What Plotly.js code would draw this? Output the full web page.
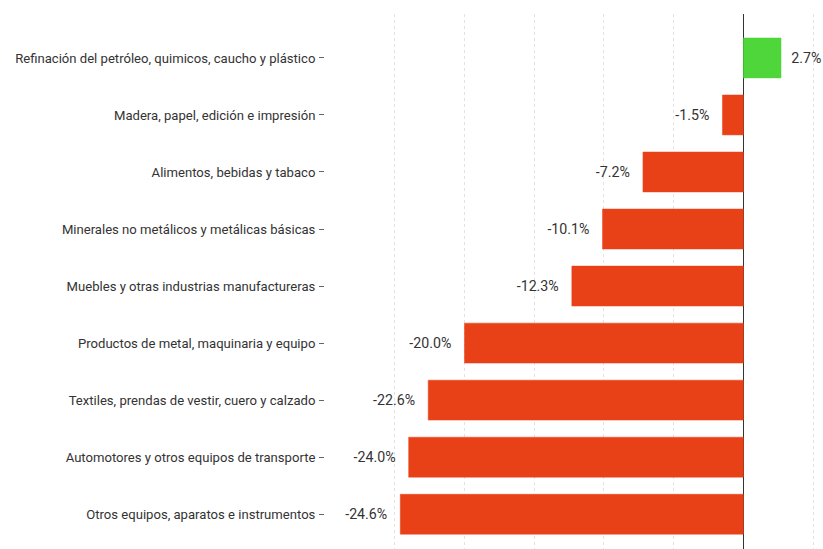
<!DOCTYPE html>
<html><head><meta charset="utf-8">
<script src="https://cdn.plot.ly/plotly-3.0.1.min.js"></script>
<style>html,body{margin:0;padding:0;background:#fff}</style>
</head><body><div id="chart" style="width:823px;height:549px"></div>
<script>
const categories = [
  "Refinación del petróleo, quimicos, caucho y plástico",
  "Madera, papel, edición e impresión",
  "Alimentos, bebidas y tabaco",
  "Minerales no metálicos y metálicas básicas",
  "Muebles y otras industrias manufactureras",
  "Productos de metal, maquinaria y equipo",
  "Textiles, prendas de vestir, cuero y calzado",
  "Automotores y otros equipos de transporte",
  "Otros equipos, aparatos e instrumentos"
];
const values = [2.7, -1.5, -7.2, -10.1, -12.3, -20.0, -22.6, -24.0, -24.6];
const positiveColor = "#4ED63A";
const negativeColor = "#E84118";
const colors = values.map(v => v >= 0 ? positiveColor : negativeColor);
const gapNeg = "\u2002\u2009";
const gapPos = "\u2002";
const labels = values.map(v => v < 0 ? v.toFixed(1) + "%" + gapNeg : gapPos + v.toFixed(1) + "%");

Plotly.newPlot("chart", [{
  type: "bar",
  orientation: "h",
  y: categories,
  x: values,
  width: 0.7,
  marker: {color: colors, line: {color: colors, width: 0.5}},
  text: labels,
  texttemplate: "%{text}",
  textposition: "outside",
  cliponaxis: false,
  textfont: {family: "Roboto, sans-serif", size: 14.2, color: "#333"},
  hoverinfo: "none"
}], {
  width: 823, height: 549,
  margin: {l: 325, r: 0, t: 14, b: 0},
  paper_bgcolor: "#fff", plot_bgcolor: "#fff",
  showlegend: false,
  font: {family: "Roboto, sans-serif", size: 13, color: "#333"},
  xaxis: {
    range: [-30, 5.71], dtick: 5, tick0: 0,
    showticklabels: false, ticks: "",
    showgrid: true, gridcolor: "#e2e2e2", griddash: "dot", gridwidth: 1,
    zeroline: true, zerolinecolor: "#333", zerolinewidth: 1.5,
    showline: false
  },
  yaxis: {
    type: "category",
    range: [8.61, -0.77],
    ticks: "outside", ticklen: 5, tickcolor: "#666", tickwidth: 1,
    ticklabelstandoff: 1,
    showgrid: false, zeroline: false, showline: false,
    tickfont: {family: "Roboto, sans-serif", size: 13.1, color: "#333"}
  }
}, {displayModeBar: false, staticPlot: true});
</script></body></html>
